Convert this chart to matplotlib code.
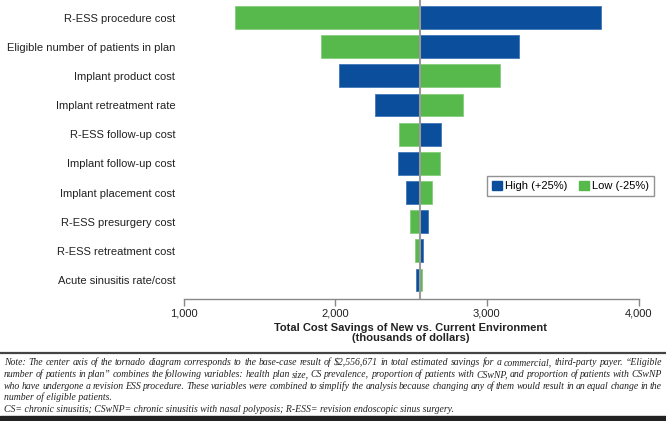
import matplotlib
matplotlib.use("Agg")
from matplotlib import pyplot as plt
from matplotlib.patches import Patch, Rectangle
from matplotlib.lines import Line2D

# Tornado data (thousands of dollars)
factors = ['R-ESS procedure cost', 'Eligible number of patients in plan',
           'Implant product cost', 'Implant retreatment rate',
           'R-ESS follow-up cost', 'Implant follow-up cost',
           'Implant placement cost', 'R-ESS presurgery cost',
           'R-ESS retreatment cost', 'Acute sinusitis rate/cost']
high_vals = [3752, 3212, 2028, 2260, 2697, 2414, 2464, 2610, 2582, 2532]
low_vals = [1342, 1904, 3086, 2845, 2420, 2688, 2641, 2492, 2526, 2573]
base = 2556.671
xticks = [1000, 2000, 3000, 4000]
xtick_labels = ['1,000', '2,000', '3,000', '4,000']

blue = '#0b4f9c'
green = '#57b84b'
sans = ['Liberation Sans', 'DejaVu Sans']
serif = ['Liberation Serif', 'DejaVu Serif']

fig = plt.figure(figsize=(6.66, 4.21), dpi=100)
ax = fig.add_axes([183.5 / 666, 122 / 421, 455 / 666, 299 / 421])

y = list(range(len(factors)))
h = 0.78
ax.barh(y, [v - base for v in high_vals], left=base, height=h, color=blue,
        edgecolor='#3f78b8', linewidth=0.6)
ax.barh(y, [v - base for v in low_vals], left=base, height=h, color=green,
        edgecolor='#86cf7c', linewidth=0.6)
ax.axvline(base, color='#9a9a9a', lw=1.5, zorder=3)

ax.set_xlim(1000, 4000)
ax.set_ylim(9.65, -0.6)
ax.set_yticks(y)
ax.set_yticklabels(factors, family=sans, fontsize=8, color='#222222')
ax.tick_params(axis='y', length=0, pad=6)
ax.set_xticks(xticks)
ax.set_xticklabels(xtick_labels, family=sans, fontsize=8, color='#222222')
ax.tick_params(axis='x', length=5, color='#888888', width=1, pad=2)
for s in ['top', 'right', 'left']:
    ax.spines[s].set_visible(False)
ax.spines['bottom'].set_color('#888888')
ax.spines['bottom'].set_linewidth(1)
ax.set_xlabel('Total Cost Savings of New vs. Current Environment\n(thousands of dollars)',
              family=sans, fontsize=8, fontweight='bold', color='#222222',
              labelpad=3, linespacing=1.05)

handles = [Patch(facecolor=blue, edgecolor=blue, label='High (+25%)'),
           Patch(facecolor=green, edgecolor=green, label='Low (-25%)')]
leg = ax.legend(handles=handles, ncol=2, loc='upper right',
                bbox_to_anchor=(654 / 666, 1 - 176 / 421),
                bbox_transform=fig.transFigure, frameon=True, fancybox=False,
                prop={'family': sans, 'size': 8}, handlelength=0.9,
                handleheight=0.9, handletextpad=0.25, columnspacing=1.1,
                borderpad=0.45, borderaxespad=0)
leg.get_frame().set_edgecolor('#777777')
leg.get_frame().set_linewidth(1)

# Rules and footnote
fig.add_artist(Line2D([0, 1], [1 - 353 / 421] * 2, color='#444444', lw=1.6))
fig.add_artist(Rectangle((0, 0), 1, 5 / 421, color='#222222', transform=fig.transFigure))

note_lines = [
    'Note: The center axis of the tornado diagram corresponds to the base-case result of \\$2,556,671 in total estimated savings for a commercial, third-party payer. \u201cEligible',
    'number of patients in plan\u201d combines the following variables: health plan size, CS prevalence, proportion of patients with CSwNP, and proportion of patients with CSwNP',
    'who have undergone a revision ESS procedure. These variables were combined to simplify the analysis because changing any of them would result in an equal change in the',
    'number of eligible patients.',
    'CS= chronic sinusitis; CSwNP= chronic sinusitis with nasal polyposis; R-ESS= revision endoscopic sinus surgery.',
]
justified = [True, True, True, False, False]
x0, x1 = 4, 662
renderer = fig.canvas.get_renderer()
for i, line in enumerate(note_lines):
    ypos = 1 - (365 + i * 11.8) / 421
    style = dict(family=serif, style='italic', fontsize=7.05, color='#222222',
                 va='baseline', ha='left')
    if not justified[i]:
        fig.text(x0 / 666, ypos, line, **style)
        continue
    words = line.split(' ')
    texts = [fig.text(0, ypos, w, **style) for w in words]
    widths = [t.get_window_extent(renderer).width for t in texts]
    gap = (x1 - x0 - sum(widths)) / (len(words) - 1)
    xp = x0
    for t, w in zip(texts, widths):
        t.set_x(xp / 666)
        xp += w + gap

plt.savefig('out.png', dpi=100)
